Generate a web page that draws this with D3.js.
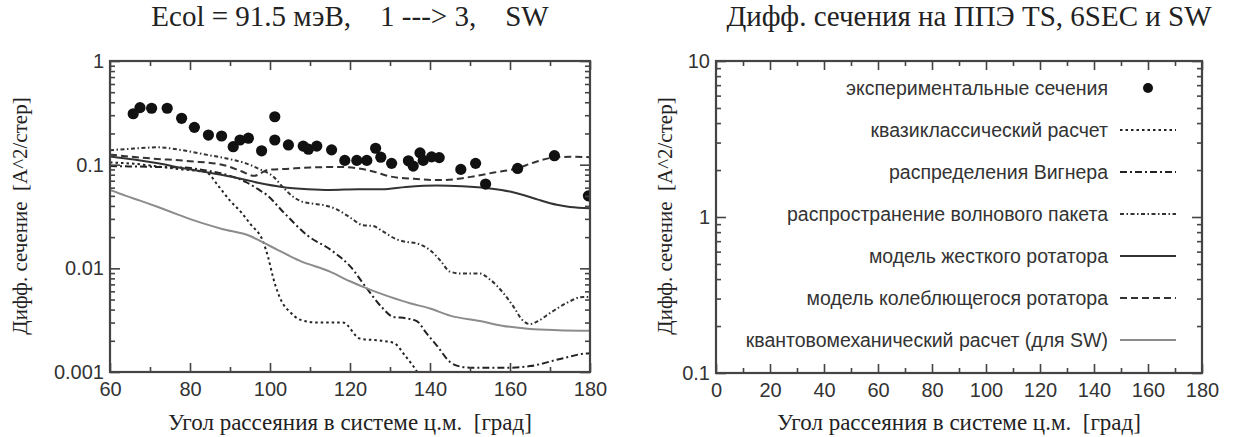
<!DOCTYPE html>
<html>
<head>
<meta charset="utf-8">
<script src="https://cdn.jsdelivr.net/npm/d3@7"></script>
<style>
	body { margin: 0; background: #fff; }
	text { white-space: pre; }
</style>
</head>
<body>
<div id="chart"></div>
<script>

// experimental points (angle in degrees, cross section)
var expAngle = [65.8, 67.5, 70.4, 74.3, 77.9, 81.1, 84.6, 87.9, 90.8, 92.5, 94.6, 97.9, 101.2, 101.2, 104.6,
	108.3, 109.6, 111.7, 115.4, 118.7, 121.7, 124.2, 126.4, 127.7, 130.4, 134.6, 135.8, 137.5, 138.3,
	140.4, 142.3, 147.7, 151.4, 153.9, 161.9, 171.1, 179.6];
var expValue = [0.31, 0.355, 0.35, 0.35, 0.28, 0.229, 0.193, 0.189, 0.149, 0.173, 0.18, 0.136, 0.29, 0.173, 0.155,
	0.151, 0.141, 0.151, 0.139, 0.11, 0.11, 0.11, 0.144, 0.118, 0.103, 0.109, 0.097, 0.13, 0.11,
	0.119, 0.117, 0.09, 0.103, 0.065, 0.092, 0.122, 0.05];

// quasiclassical
var quasiAngle = [60, 66, 72, 78, 82, 84, 87, 90, 93, 95, 98.3, 99.6, 100.8, 102.9, 105, 107.5, 111.8, 118.2,
	122.5, 128, 131, 134, 136.8, 139];
var quasiValue = [0.105, 0.102, 0.096, 0.09, 0.087, 0.085, 0.063, 0.045, 0.034, 0.027, 0.018, 0.0125, 0.0081,
	0.0048, 0.0038, 0.0032, 0.003, 0.003, 0.0021, 0.002, 0.0019, 0.0014, 0.001, 0.0007];

// Wigner distribution
var wignerAngle = [60, 66, 72, 78, 84, 90, 94, 97, 99.2, 103.3, 109.2, 115.8, 120, 124.2, 128, 130.8, 134,
	136.7, 139, 141.7, 145, 148, 150, 160, 165, 173.3, 178.3, 180];
var wignerValue = [0.097, 0.096, 0.095, 0.094, 0.088, 0.078, 0.068, 0.058, 0.051, 0.035, 0.021, 0.0145, 0.0105,
	0.0064, 0.0042, 0.0034, 0.0033, 0.0031, 0.0024, 0.0018, 0.00125, 0.00112, 0.0011, 0.0011, 0.00114,
	0.00136, 0.0015, 0.00152];

// wave packet propagation
var packetAngle = [60, 66, 72, 78, 84, 90, 94, 97.5, 100.8, 103, 105.8, 108, 110.8, 113, 116.7, 120, 123.3,
	125.8, 128, 131.7, 134, 136.7, 140, 142.5, 145, 148, 152.5, 155, 158.3, 161, 163, 165, 167, 170, 174,
	178.3, 180];
var packetValue = [0.138, 0.143, 0.147, 0.138, 0.125, 0.113, 0.103, 0.09, 0.077, 0.062, 0.049, 0.044, 0.042,
	0.041, 0.037, 0.031, 0.026, 0.0256, 0.023, 0.019, 0.018, 0.0174, 0.015, 0.012, 0.0093, 0.0089, 0.0089,
	0.0078, 0.0058, 0.0042, 0.0032, 0.0029, 0.0031, 0.0037, 0.0046, 0.0053, 0.0053];

// rigid rotator
var rigidAngle = [60, 66, 72, 78, 84.5, 90, 97, 103, 109.5, 115, 122, 128, 134, 141.7, 148, 155, 160, 163.3,
	167, 171.7, 175, 180];
var rigidValue = [0.12, 0.112, 0.103, 0.093, 0.084, 0.077, 0.067, 0.061, 0.058, 0.057, 0.058, 0.058, 0.061,
	0.063, 0.062, 0.059, 0.055, 0.051, 0.046, 0.041, 0.039, 0.038];

// vibrating rotator
var vibAngle = [60, 70, 80, 88, 93, 96, 99.5, 104, 110, 117.5, 122, 125.8, 130, 136, 142.5, 147, 150.8, 156,
	161.7, 166, 170.8, 175, 180];
var vibValue = [0.125, 0.115, 0.108, 0.1, 0.086, 0.078, 0.089, 0.091, 0.094, 0.095, 0.092, 0.086, 0.077,
	0.073, 0.071, 0.073, 0.077, 0.084, 0.092, 0.105, 0.117, 0.119, 0.118];

// quantum mechanical (SW)
var quantAngle = [60, 64, 67.5, 72, 77, 81, 88, 95, 98, 102, 107.5, 115, 120, 124.2, 130, 135, 140, 145,
	152.5, 158, 165, 172, 180];
var quantValue = [0.057, 0.05, 0.045, 0.039, 0.033, 0.029, 0.024, 0.0205, 0.018, 0.015, 0.0118, 0.0093,
	0.0075, 0.0064, 0.0053, 0.0046, 0.0041, 0.0035, 0.0031, 0.0028, 0.0026, 0.00253, 0.0025];

var leftXTicks = [60, 80, 100, 120, 140, 160, 180];
var leftYTicks = [1, 0.1, 0.01, 0.001];
var leftYLabels = ["1", "0.1", "0.01", "0.001"];
var rightXTicks = [0, 20, 40, 60, 80, 100, 120, 140, 160, 180];
var rightYTicks = [10, 1, 0.1];
var rightYLabels = ["10", "1", "0.1"];

var legendLabels = [
	"экспериментальные сечения",
	"квазиклассический расчет",
	"распределения Вигнера",
	"распространение волнового пакета",
	"модель жесткого ротатора",
	"модель колеблющегося ротатора",
	"квантовомеханический расчет (для SW)"
];

var leftTitle = "Ecol = 91.5 мэВ,    1 ---> 3,    SW";
var rightTitle = "Дифф. сечения на ППЭ TS, 6SEC и SW";
var xTitle = "Угол рассеяния в системе ц.м.  [град]";
var yTitle = "Дифф. сечение  [A^2/стер]";

var serif = "'Liberation Serif', 'Times New Roman', serif";
var sans = "'Liberation Sans', Arial, sans-serif";
var ink = "#333";

var svg = d3.select("#chart").append("svg")
	.attr("width", 1244)
	.attr("height", 437);

// line styles, in legend order after the dots
var styles = [
	{ dash: "2.5,3", color: "#222", width: 2 },
	{ dash: "7,3,2,3", color: "#222", width: 2 },
	{ dash: "4,2.5,1.5,2.5", color: "#333", width: 2 },
	{ dash: null, color: "#333", width: 2 },
	{ dash: "7,4", color: "#333", width: 2 },
	{ dash: null, color: "#8c8c8c", width: 2 }
];

var series = [
	[quasiAngle, quasiValue],
	[wignerAngle, wignerValue],
	[packetAngle, packetValue],
	[rigidAngle, rigidValue],
	[vibAngle, vibValue],
	[quantAngle, quantValue]
];

function minorLog(lo, hi) {
	var out = [];
	for (var e = lo; e < hi; e++) {
		for (var m = 2; m <= 9; m++) out.push(m * Math.pow(10, e));
	}
	return out;
}

function drawFrame(x, y, xTicks, yTicks, yLabels, xMinor, yMinor) {
	var g = svg.append("g");
	var x0 = x.range()[0], x1 = x.range()[1];
	var y0 = y.range()[0], y1 = y.range()[1];

	g.append("g").attr("transform", "translate(0," + y0 + ")")
		.call(d3.axisBottom(x).tickValues(xTicks).tickSize(-9).tickPadding(10).tickFormat(d3.format("d")));
	g.append("g").attr("transform", "translate(0," + y0 + ")")
		.call(d3.axisBottom(x).tickValues(xMinor).tickSize(-5).tickFormat(""));
	g.append("g").attr("transform", "translate(0," + y1 + ")")
		.call(d3.axisTop(x).tickValues(xTicks).tickSize(-9).tickFormat(""));
	g.append("g").attr("transform", "translate(0," + y1 + ")")
		.call(d3.axisTop(x).tickValues(xMinor).tickSize(-5).tickFormat(""));

	g.append("g").attr("transform", "translate(" + x0 + ",0)")
		.call(d3.axisLeft(y).tickValues(yTicks).tickSize(-10).tickPadding(6)
			.tickFormat(function(d, i) { return yLabels[i]; }));
	g.append("g").attr("transform", "translate(" + x0 + ",0)")
		.call(d3.axisLeft(y).tickValues(yMinor).tickSize(-5).tickFormat(""));
	g.append("g").attr("transform", "translate(" + x1 + ",0)")
		.call(d3.axisRight(y).tickValues(yTicks).tickSize(-10).tickFormat(""));
	g.append("g").attr("transform", "translate(" + x1 + ",0)")
		.call(d3.axisRight(y).tickValues(yMinor).tickSize(-5).tickFormat(""));

	g.selectAll(".domain").remove();
	g.selectAll(".tick line").attr("stroke", "#444").attr("stroke-width", 1.6);
	g.selectAll(".tick text").attr("fill", ink).attr("font-family", sans).attr("font-size", 20);

	g.append("rect")
		.attr("x", x0).attr("y", y1)
		.attr("width", x1 - x0).attr("height", y0 - y1)
		.attr("fill", "none").attr("stroke", "#444").attr("stroke-width", 2.2);
}

function addTitles(cx, tx, cy, yx, title) {
	svg.append("text").text(title)
		.attr("x", tx).attr("y", 26)
		.attr("text-anchor", "middle")
		.attr("font-family", serif).attr("font-size", 29).attr("fill", "#222");
	svg.append("text").text(xTitle)
		.attr("x", cx).attr("y", 430)
		.attr("text-anchor", "middle")
		.attr("font-family", serif).attr("font-size", 23).attr("fill", "#222");
	svg.append("text").text(yTitle)
		.attr("transform", "translate(" + yx + "," + cy + ") rotate(-90)")
		.attr("text-anchor", "middle")
		.attr("font-family", serif).attr("font-size", 21).attr("fill", "#222");
}

// left chart
var xL = d3.scaleLinear().domain([60, 180]).range([110, 590]);
var yL = d3.scaleLog().domain([0.001, 1]).range([372, 61]);

svg.append("clipPath").attr("id", "clipL")
	.append("rect").attr("x", 110).attr("y", 61).attr("width", 480).attr("height", 311);

var line = d3.line()
	.x(function(d) { return xL(d[0]); })
	.y(function(d) { return yL(d[1]); })
	.curve(d3.curveMonotoneX);

var curves = svg.append("g").attr("clip-path", "url(#clipL)");
series.forEach(function(s, k) {
	var pts = s[0].map(function(a, i) { return [a, s[1][i]]; });
	curves.append("path")
		.datum(pts)
		.attr("d", line)
		.attr("fill", "none")
		.attr("stroke", styles[k].color)
		.attr("stroke-width", styles[k].width)
		.attr("stroke-dasharray", styles[k].dash);
});

curves.selectAll("circle")
	.data(expAngle)
	.enter()
	.append("circle")
	.attr("cx", function(d) { return xL(d); })
	.attr("cy", function(d, i) { return yL(expValue[i]); })
	.attr("r", 5.6)
	.attr("fill", "#111");

drawFrame(xL, yL, leftXTicks, leftYTicks, leftYLabels,
	d3.range(70, 180, 20), minorLog(-3, 0));
addTitles(350, 350, 216, 27, leftTitle);

// right chart (legend only)
var xR = d3.scaleLinear().domain([0, 180]).range([716, 1202]);
var yR = d3.scaleLog().domain([0.1, 10]).range([373, 61]);

drawFrame(xR, yR, rightXTicks, rightYTicks, rightYLabels,
	d3.range(10, 180, 20), minorLog(-1, 1));
addTitles(959, 969, 216, 672, rightTitle);

var legend = svg.append("g");
legendLabels.forEach(function(label, i) {
	var ly = 88 + i * 42;
	legend.append("text").text(label)
		.attr("x", 1108).attr("y", ly).attr("dy", "0.35em")
		.attr("text-anchor", "end")
		.attr("font-family", sans).attr("font-size", 19.5).attr("fill", ink);
	if (i == 0) {
		legend.append("circle").attr("cx", 1148).attr("cy", ly).attr("r", 5).attr("fill", "#111");
	} else {
		var st = styles[i - 1];
		legend.append("line")
			.attr("x1", 1120).attr("x2", 1176).attr("y1", ly).attr("y2", ly)
			.attr("stroke", st.color)
			.attr("stroke-width", st.width)
			.attr("stroke-dasharray", st.dash);
	}
});

</script>
</body>
</html>
